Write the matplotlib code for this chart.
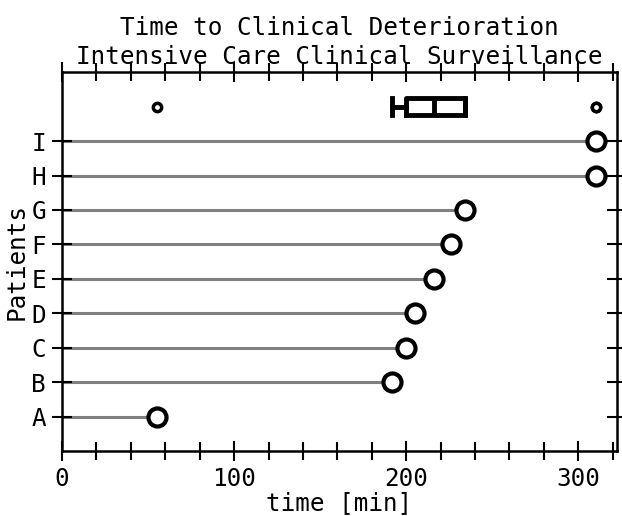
import numpy as np
import matplotlib
matplotlib.use("Agg")
import matplotlib.pyplot as plt
from matplotlib.ticker import MultipleLocator

patients = ["A", "B", "C", "D", "E", "F", "G", "H", "I"]
times = [55, 192, 200, 205, 216, 226, 234, 310.5, 310.5]

plt.rcParams['font.family'] = ['DejaVu Sans Mono']
plt.rcParams['font.size'] = 17.5

fig = plt.figure(figsize=(6.22, 5.16), dpi=100)
ax = fig.add_axes([0.0997, 0.126, 0.8923, 0.734])

y = np.arange(len(patients))
ax.hlines(y, 0, times, color='gray', linewidth=2.2, zorder=1)
ax.plot(times, y, 'o', markersize=13, markerfacecolor='white',
        markeredgecolor='black', markeredgewidth=3, zorder=3)

# summary boxplot above the patient rows
ax.boxplot([times], positions=[len(patients)], vert=False, widths=0.5,
           capwidths=0.5, manage_ticks=False,
           boxprops=dict(color='black', linewidth=3.5),
           medianprops=dict(color='black', linewidth=3.5),
           whiskerprops=dict(color='black', linewidth=3.5),
           capprops=dict(color='black', linewidth=3.5),
           flierprops=dict(marker='o', markersize=6, markerfacecolor='white',
                           markeredgecolor='black', markeredgewidth=2.5))

ax.set_xlim(0, 322.5)
ax.set_ylim(-1, len(patients) + 1)
ax.set_yticks(y)
ax.set_yticklabels(patients)
ax.xaxis.set_major_locator(MultipleLocator(100))
ax.xaxis.set_minor_locator(MultipleLocator(20))
ax.tick_params(which='major', direction='inout', length=15, width=1.5,
               top=True, right=True, labelsize=17.5, pad=4)
ax.tick_params(which='minor', direction='inout', length=13, width=1.5,
               top=True, right=True)
ax.tick_params(axis='y', which='minor', left=False, right=False)
for s in ax.spines.values():
    s.set_linewidth(1.8)

ax.set_xlabel('time [min]', fontsize=17.5, labelpad=0)
ax.set_ylabel('Patients', fontsize=17.5, labelpad=2)
ax.set_title('Time to Clinical Deterioration\nIntensive Care Clinical Surveillance',
             fontsize=17.5, pad=6, linespacing=1.25)

fig.savefig('out.png', dpi=100)
